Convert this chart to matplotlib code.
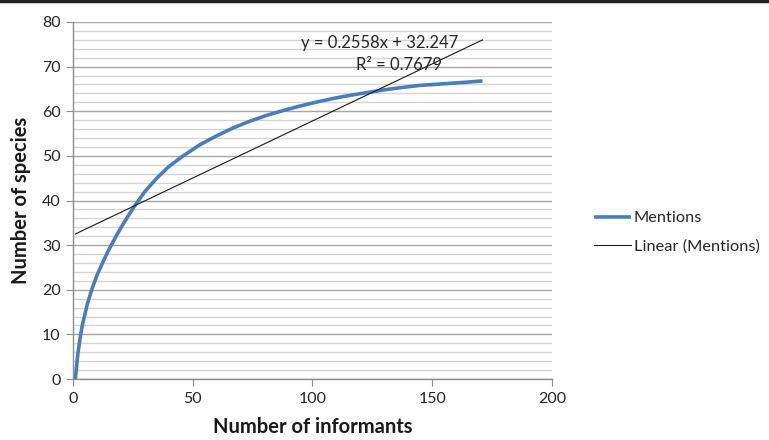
import matplotlib
matplotlib.use("Agg")
import matplotlib.pyplot as plt
import numpy as np
from matplotlib.lines import Line2D

# Data
informants = [1, 2, 3, 4, 6, 8, 10, 13, 15, 18, 21, 25, 30, 35, 40, 46, 53, 60, 67,
              74, 81, 88, 95, 102, 109, 116, 123, 130, 137, 145, 156, 164, 171]
species = [0, 5.5, 9.3, 12.3, 16.8, 20.3, 23.2, 26.8, 29.0, 32.0, 34.8, 38.2, 42.0,
           45.0, 47.6, 50.0, 52.5, 54.5, 56.3, 57.8, 59.1, 60.2, 61.2, 62.1, 62.9,
           63.6, 64.2, 64.8, 65.3, 65.8, 66.2, 66.5, 66.8]
slope = 0.2558
intercept = 32.247
r2 = 0.7679
x_ticks = [0, 50, 100, 150, 200]
y_ticks = [0, 10, 20, 30, 40, 50, 60, 70, 80]

font = ["Lato", "DejaVu Sans"]
plt.rcParams['font.family'] = font

fig = plt.figure(figsize=(7.69, 4.40), dpi=100)
ax = fig.add_axes([0.0949, 0.1386, 0.7178 - 0.0949, 0.95 - 0.1386])

# gridlines
for v in np.arange(0, 81, 2):
    if v % 10 == 0:
        ax.axhline(v, color="#a6a6a6", lw=1.0, zorder=0)
    else:
        ax.axhline(v, color="#d4d4d4", lw=1.0, zorder=0)

ax.plot(informants, species, color="#4a7ebb", lw=2.6, solid_capstyle="butt",
        solid_joinstyle="round", label="Mentions", zorder=3)
tx = np.array([informants[0], informants[-1]])
ax.plot(tx, slope * tx + intercept, color="#1a1a1a", lw=0.8,
        label="Linear (Mentions)", zorder=4)

ax.set_xlim(0, 200)
ax.set_ylim(0, 80)
ax.set_xticks(x_ticks)
ax.set_yticks(y_ticks)
ax.tick_params(axis="both", direction="out", length=5, color="#8c8c8c",
               labelsize=11.5, labelcolor="#262626", pad=4)
for s in ["top", "right"]:
    ax.spines[s].set_visible(False)
for s in ["left", "bottom"]:
    ax.spines[s].set_color("#8c8c8c")
    ax.spines[s].set_linewidth(1.0)

ax.set_xlabel("Number of informants", fontsize=14.5, fontweight="bold",
              color="#1a1a1a", labelpad=8)
ax.set_ylabel("Number of species", fontsize=14.5, fontweight="bold",
              color="#1a1a1a", labelpad=8)

ax.text(128, 75.3, f"y = {slope}x + {intercept}", fontsize=12,
        ha="center", va="center", color="#262626", zorder=5)
ax.text(136, 70.3, f"R² = {r2}", fontsize=12,
        ha="center", va="center", color="#262626", zorder=5)

leg = fig.legend(loc="center left", bbox_to_anchor=(0.772, 0.472), frameon=False,
                 fontsize=11.8, handlelength=2.3, handletextpad=0.15,
                 labelspacing=0.85, labelcolor="#262626",
                 borderpad=0, borderaxespad=0)

fig.add_artist(Line2D([0, 1], [0.997, 0.997], color="#222222", lw=2.5,
                      transform=fig.transFigure))

fig.savefig("out.png", dpi=100)
